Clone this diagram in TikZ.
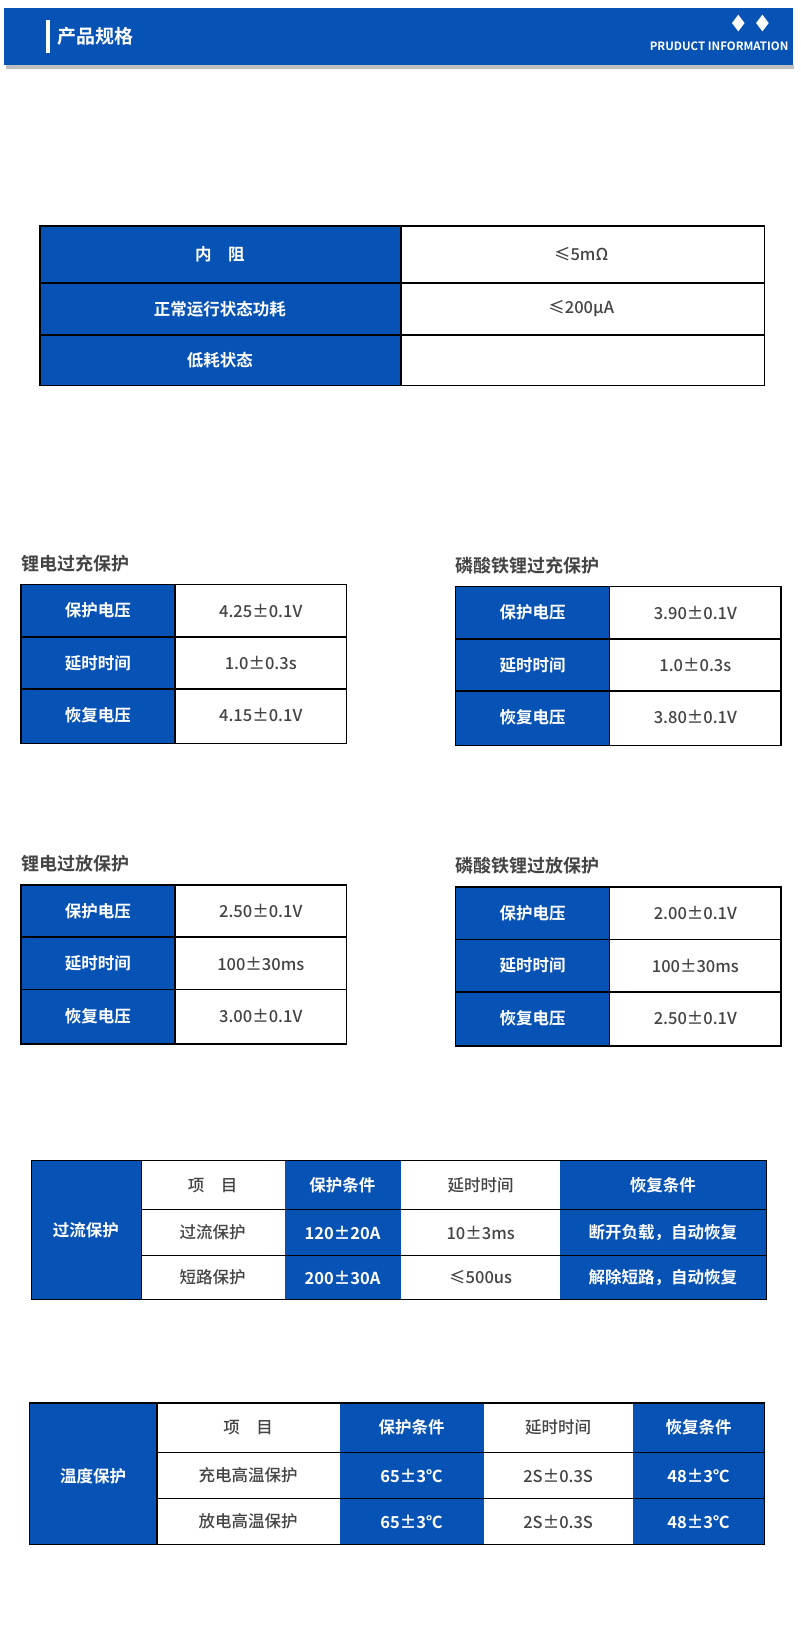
\documentclass[tikz,border=0pt]{standalone}
\usepackage{fontspec}
\setmainfont{Noto Sans CJK SC}
\newfontfamily\bfcjk{Noto Sans CJK SC Bold}
\newfontfamily\mdcjk{Noto Sans CJK SC Medium}
\definecolor{bl}{HTML}{0752B5}
\definecolor{tx}{HTML}{444444}
\newcount\cc
\newcommand{\bc}[5]{\global\advance\cc1
  \fill[bl] (#1,#2) rectangle (#3,#4);
  \node[wt] (n\the\cc) at ({(#1+#3)/2},{(#2+#4)/2}) {#5};}
\newcommand{\wc}[5]{\global\advance\cc1
  \node[gt] (n\the\cc) at ({(#1+#3)/2},{(#2+#4)/2}) {#5};}
\newcommand{\tbl}[7]{% x1 x2 xs y0 y1 y2 y3
  \fill[bl] (#1,#4) rectangle (#3,#7);
  \draw[grid] (#1,#4) rectangle (#2,#7);
  \draw[grid] (#3,#4) -- (#3,#7) (#1,#5) -- (#2,#5) (#1,#6) -- (#2,#6);}
\begin{document}
\begin{tikzpicture}[x=1.047pt,y=-1.047pt,
  wt/.style={text=white,font=\bfcjk\fontsize{16.5}{18}\selectfont,inner sep=0},
  gt/.style={text=tx,font=\mdcjk\fontsize{16.5}{18}\selectfont,inner sep=0},
  ttl/.style={text=tx,font=\bfcjk\fontsize{18}{20}\selectfont,anchor=west,inner sep=0},
  grid/.style={draw=black,line width=1.6pt}]
\useasboundingbox (0,0) rectangle (764,1567);
\fill[white] (0,0) rectangle (764,1567);
% header
\fill[black!25] (6,62) rectangle (758,66);
\fill[bl] (4,8) rectangle (757,62);
\fill[white] (44,19) rectangle (48,51);
\node[text=white,font=\bfcjk\fontsize{19}{20}\selectfont,anchor=west,inner sep=0] (h1) at (55,35) {产品规格};
\fill[white] (705,14) -- (711,22) -- (705,30) -- (699,22) -- cycle;
\fill[white] (728,14) -- (734,22) -- (728,30) -- (722,22) -- cycle;
\node[text=white,font=\bfcjk\fontsize{11.5}{12}\selectfont,anchor=east,inner sep=0] (h2) at (753,44) {PRUDUCT INFORMATION};
% table 1
\tbl{38}{730}{383}{216}{270}{320}{368}
\node[wt] (a1) at (210,243) {内\hspace{1em}阻};
\node[wt] (a2) at (210,295) {正常运行状态功耗};
\node[wt] (a3) at (210,344) {低耗状态};
\node[gt] (a4) at (555,243) {≤5mΩ};
\node[gt] (a5) at (555,295) {≤200μA};
% small tables
\newcommand{\st}[9]{% x1 x2 xs y0 title l1 v1 v2 v3
  \tbl{#1}{#2}{#3}{#4}{#4+50}{#4+100}{#4+152}
  \global\advance\cc1 \node[ttl] (n\the\cc) at (#1,#4-20) {#5};
  \global\advance\cc1 \node[wt] (n\the\cc) at ({(#1+#3)/2},#4+25) {保护电压};
  \global\advance\cc1 \node[wt] (n\the\cc) at ({(#1+#3)/2},#4+75) {延时时间};
  \global\advance\cc1 \node[wt] (n\the\cc) at ({(#1+#3)/2},#4+125) {恢复电压};
  \global\advance\cc1 \node[gt] (n\the\cc) at ({(#3+#2)/2},#4+25) {#7};
  \global\advance\cc1 \node[gt] (n\the\cc) at ({(#3+#2)/2},#4+75) {#8};
  \global\advance\cc1 \node[gt] (n\the\cc) at ({(#3+#2)/2},#4+125) {#9};}
\st{20}{331}{167}{558}{锂电过充保护}{}{4.25±0.1V}{1.0±0.3s}{4.15±0.1V}
\st{435}{746}{582}{560}{磷酸铁锂过充保护}{}{3.90±0.1V}{1.0±0.3s}{3.80±0.1V}
\st{20}{331}{167}{845}{锂电过放保护}{}{2.50±0.1V}{100±30ms}{3.00±0.1V}
\st{435}{746}{582}{847}{磷酸铁锂过放保护}{}{2.00±0.1V}{100±30ms}{2.50±0.1V}
% table 6
\fill[bl] (30,1108) rectangle (135,1241);
\fill[bl] (272,1108) rectangle (383,1241);
\fill[bl] (535,1108) rectangle (732,1241);
\draw[grid] (30,1108) rectangle (732,1241);
\draw[grid] (135,1108) -- (135,1241) (135,1155) -- (732,1155) (135,1199) -- (732,1199);
\node[wt] (b0) at (82,1175) {过流保护};
\node[gt] (b1) at (203,1132) {项\hspace{1em}目};
\node[wt] (b2) at (327,1132) {保护条件};
\node[gt] (b3) at (459,1132) {延时时间};
\node[wt] (b4) at (633,1132) {恢复条件};
\node[gt] (b5) at (203,1177) {过流保护};
\node[wt] (b6) at (327,1177) {120±20A};
\node[gt] (b7) at (459,1177) {10±3ms};
\node[wt] (b8) at (633,1177) {断开负载，自动恢复};
\node[gt] (b9) at (203,1220) {短路保护};
\node[wt] (b10) at (327,1220) {200±30A};
\node[gt] (b11) at (459,1220) {≤500us};
\node[wt] (b12) at (633,1220) {解除短路，自动恢复};
% table 7
\fill[bl] (28,1340) rectangle (150,1475);
\fill[bl] (325,1340) rectangle (462,1475);
\fill[bl] (604,1340) rectangle (730,1475);
\draw[grid] (28,1340) rectangle (730,1475);
\draw[grid] (150,1340) -- (150,1475) (150,1387) -- (730,1387) (150,1431) -- (730,1431);
\node[wt] (c0) at (89,1410) {温度保护};
\node[gt] (c1) at (237,1363) {项\hspace{1em}目};
\node[wt] (c2) at (393,1363) {保护条件};
\node[gt] (c3) at (533,1363) {延时时间};
\node[wt] (c4) at (667,1363) {恢复条件};
\node[gt] (c5) at (237,1409) {充电高温保护};
\node[wt] (c6) at (393,1409) {65±3℃};
\node[gt] (c7) at (533,1409) {2S±0.3S};
\node[wt] (c8) at (667,1409) {48±3℃};
\node[gt] (c9) at (237,1453) {放电高温保护};
\node[wt] (c10) at (393,1453) {65±3℃};
\node[gt] (c11) at (533,1453) {2S±0.3S};
\node[wt] (c12) at (667,1453) {48±3℃};
\end{tikzpicture}
\end{document}
